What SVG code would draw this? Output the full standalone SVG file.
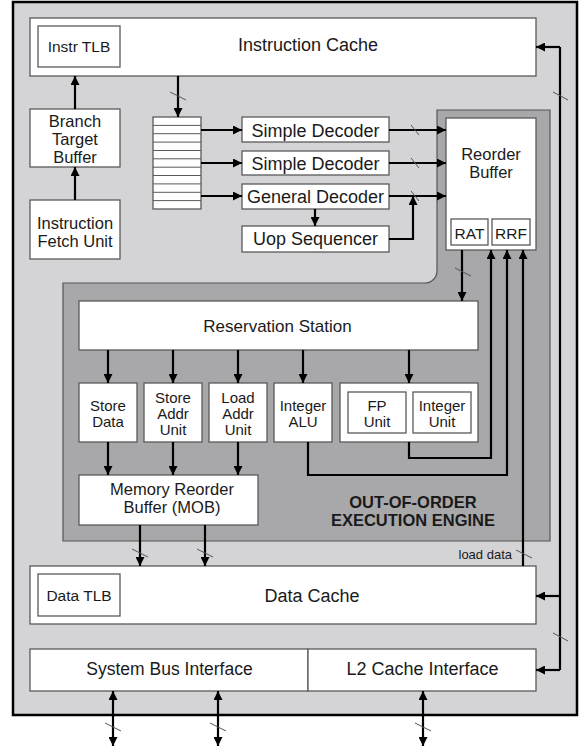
<svg xmlns="http://www.w3.org/2000/svg" width="580" height="749" viewBox="0 0 580 749">
<defs>
<style>
.box{fill:#fff;stroke:#5a5a5a;stroke-width:1.3}
.t{font-family:"Liberation Sans",Arial,sans-serif;fill:#1a1a1a;text-anchor:middle}
.f18{font-size:18px}
.f17{font-size:17.5px}
.m{font-size:16.5px}
.f15{font-size:15.5px}
.u{font-size:15px}
.w{fill:none;stroke:#000;stroke-width:2.2}
.s{stroke:#555;stroke-width:1}
.row{stroke:#5a5a5a;stroke-width:1}
</style>
<marker id="a" viewBox="0 0 10 10" refX="10" refY="5" markerWidth="9" markerHeight="9" markerUnits="userSpaceOnUse" orient="auto-start-reverse">
<path d="M0,0 L10,5 L0,10 z" fill="#000"/>
</marker>
</defs>
<rect width="580" height="749" fill="#fff"/>
<rect x="13" y="2" width="564" height="713" fill="#d4d4d6" stroke="#000" stroke-width="2.5"/>
<path d="M437,110 H550 V541 H63 V283 H425 A12,12 0 0 0 437,271 Z" fill="#a8a8ab" stroke="#555" stroke-width="1.2"/>

<g id="instruction-cache"><rect class="box" x="30" y="18" width="506" height="58"/><text class="t f18" x="308" y="51">Instruction Cache</text></g>
<g id="instr-tlb"><rect class="box" x="38" y="26" width="82" height="41"/><text class="t f15" x="79" y="52">Instr TLB</text></g>
<g id="btb"><rect class="box" x="30" y="109" width="90" height="58"/><text class="t m" x="75" y="127">Branch</text><text class="t m" x="75" y="145">Target</text><text class="t m" x="75" y="163">Buffer</text></g>
<g id="ifu"><rect class="box" x="30" y="200" width="90" height="59"/><text class="t m" x="75" y="229">Instruction</text><text class="t m" x="75" y="247">Fetch Unit</text></g>
<g id="queue"><rect class="box" x="153" y="117" width="48" height="92"/>
<path class="row" d="M153,125.4H201M153,133.7H201M153,142.1H201M153,150.5H201M153,158.8H201M153,167.2H201M153,175.5H201M153,183.9H201M153,192.3H201M153,200.6H201"/></g>
<g id="simple-decoder-1"><rect class="box" x="242" y="117" width="147" height="25"/><text class="t f18" x="315.5" y="137">Simple Decoder</text></g>
<g id="simple-decoder-2"><rect class="box" x="242" y="151" width="147" height="24"/><text class="t f18" x="315.5" y="170">Simple Decoder</text></g>
<g id="general-decoder"><rect class="box" x="242" y="184" width="147" height="25"/><text class="t f18" x="315.5" y="203">General Decoder</text></g>
<g id="uop-sequencer"><rect class="box" x="242" y="226" width="147" height="26"/><text class="t f18" x="315.5" y="245">Uop Sequencer</text></g>
<g id="reorder-buffer"><rect class="box" x="446" y="118" width="90" height="132"/><text class="t m" x="491" y="160">Reorder</text><text class="t m" x="491" y="178">Buffer</text></g>
<g id="rat"><rect class="box" x="451" y="219" width="37" height="26"/><text class="t f15" x="469.5" y="239">RAT</text></g>
<g id="rrf"><rect class="box" x="492" y="219" width="38" height="26"/><text class="t f15" x="511" y="239">RRF</text></g>
<g id="reservation-station"><rect class="box" x="79" y="301" width="399" height="49"/><text class="t" style="font-size:17px" x="277.5" y="332">Reservation Station</text></g>
<g id="store-data"><rect class="box" x="79" y="383" width="58" height="59"/><text class="t u" x="108" y="411">Store</text><text class="t u" x="108" y="427">Data</text></g>
<g id="store-addr"><rect class="box" x="144" y="383" width="58" height="59"/><text class="t u" x="173" y="403">Store</text><text class="t u" x="173" y="419">Addr</text><text class="t u" x="173" y="435">Unit</text></g>
<g id="load-addr"><rect class="box" x="209" y="383" width="58" height="59"/><text class="t u" x="238" y="403">Load</text><text class="t u" x="238" y="419">Addr</text><text class="t u" x="238" y="435">Unit</text></g>
<g id="integer-alu"><rect class="box" x="274" y="383" width="58" height="59"/><text class="t u" x="303" y="411">Integer</text><text class="t u" x="303" y="427">ALU</text></g>
<g id="fp-int-group"><rect class="box" x="340" y="383" width="138" height="59"/></g>
<g id="fp-unit"><rect class="box" x="348" y="392" width="58" height="41"/><text class="t u" x="377" y="411">FP</text><text class="t u" x="377" y="427">Unit</text></g>
<g id="integer-unit"><rect class="box" x="413" y="392" width="58" height="41"/><text class="t u" x="442" y="411">Integer</text><text class="t u" x="442" y="427">Unit</text></g>
<g id="mob"><rect class="box" x="79" y="475" width="179" height="50"/><text class="t" style="font-size:16.5px" x="172" y="495">Memory Reorder</text><text class="t" style="font-size:16.5px" x="172" y="513">Buffer (MOB)</text></g>
<g id="ooo-label"><text class="t" style="font-size:16.5px;font-weight:bold" x="413" y="508">OUT-OF-ORDER</text><text class="t" style="font-size:16.5px;font-weight:bold" x="413" y="526">EXECUTION ENGINE</text></g>
<g id="data-cache"><rect class="box" x="30" y="566" width="506" height="58"/><text class="t f18" x="312" y="602">Data Cache</text></g>
<g id="data-tlb"><rect class="box" x="38" y="574" width="82" height="42"/><text class="t f15" x="79" y="601">Data TLB</text></g>
<g id="system-bus"><rect class="box" x="30" y="649" width="278" height="42"/><text class="t f17" x="169.5" y="675">System Bus Interface</text></g>
<g id="l2-interface"><rect class="box" x="308" y="649" width="228" height="42"/><text class="t f18" x="422.5" y="675">L2 Cache Interface</text></g>

<g id="connectors">
<path class="w" marker-end="url(#a)" d="M178,76V117"/>
<path class="w" marker-end="url(#a)" d="M75,200V167"/>
<path class="w" marker-end="url(#a)" d="M75,109V76"/>
<path class="w" marker-end="url(#a)" d="M201,130H242"/>
<path class="w" marker-end="url(#a)" d="M201,163H242"/>
<path class="w" marker-end="url(#a)" d="M201,196H242"/>
<path class="w" marker-end="url(#a)" d="M389,130H446"/>
<path class="w" marker-end="url(#a)" d="M389,163H446"/>
<path class="w" marker-end="url(#a)" d="M389,196H446"/>
<path class="w" marker-end="url(#a)" d="M315,209V226"/>
<path class="w" marker-end="url(#a)" d="M389,239H413V196"/>
<path class="w" marker-end="url(#a)" d="M462,250V301"/>
<path class="w" marker-end="url(#a)" d="M108,350V383"/>
<path class="w" marker-end="url(#a)" d="M173,350V383"/>
<path class="w" marker-end="url(#a)" d="M238,350V383"/>
<path class="w" marker-end="url(#a)" d="M303,350V383"/>
<path class="w" marker-end="url(#a)" d="M409,350V383"/>
<path class="w" marker-end="url(#a)" d="M108,442V475"/>
<path class="w" marker-end="url(#a)" d="M173,442V475"/>
<path class="w" marker-end="url(#a)" d="M238,442V475"/>
<path class="w" marker-end="url(#a)" d="M308,442V475H507V250"/>
<path class="w" marker-end="url(#a)" d="M409,442V458H491V250"/>
<path class="w" marker-end="url(#a)" d="M523,566V250"/>
<path class="w" marker-end="url(#a)" d="M140,525V566"/>
<path class="w" marker-end="url(#a)" d="M205,525V566"/>
<path class="w" d="M560,47V670"/>
<path class="w" marker-end="url(#a)" d="M560,47H536"/>
<path class="w" marker-end="url(#a)" d="M560,596H536"/>
<path class="w" marker-end="url(#a)" d="M560,670H536"/>
<path class="w" marker-start="url(#a)" marker-end="url(#a)" d="M113,691V746"/>
<path class="w" marker-start="url(#a)" marker-end="url(#a)" d="M218,691V746"/>
<path class="w" marker-start="url(#a)" marker-end="url(#a)" d="M423,691V746"/>
<path class="s" d="M170,92L186,100M411,125L419,135M411,158L419,168M411,191L419,201M455,268L471,276M516,550L532,558M132,549L148,557M197,549L213,557M553,92L568,100M553,633L568,641M105,723L121,731M210,723L226,731M415,723L431,731"/>
<text class="t" style="font-size:13px;text-anchor:end" x="512" y="559">load data</text>
</g>
</svg>
